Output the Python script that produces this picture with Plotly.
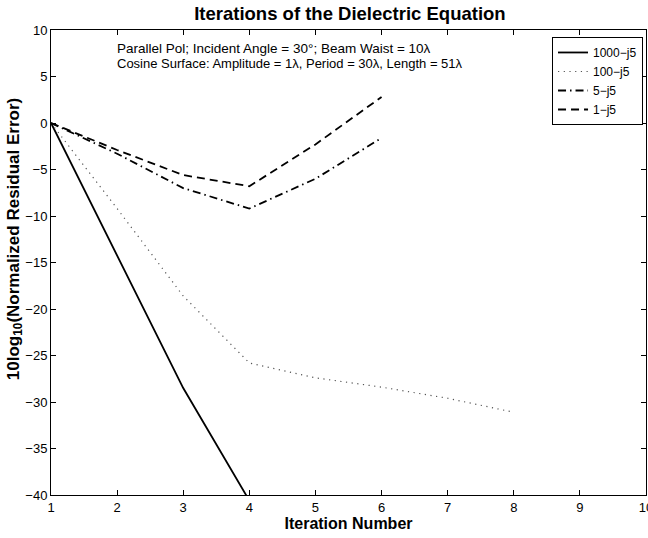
import plotly.graph_objects as go

iterations_a = [1, 2, 3, 4]
err_1000 = [0, -14.3, -28.5, -40.6]
iterations_b = [1, 2, 3, 4, 5, 6, 7, 8]
err_100 = [0, -9.2, -18.6, -25.8, -27.4, -28.4, -29.6, -31.1]
iterations_c = [1, 2, 3, 4, 5, 6]
err_5 = [0, -3.3, -7.0, -9.2, -6.0, -1.6]
err_1 = [0, -2.9, -5.6, -6.8, -2.3, 2.8]

series_names = ["1000\u2212j5", "100\u2212j5", "5\u2212j5", "1\u2212j5"]

FONT = "Liberation Sans, Arial, Helvetica, sans-serif"

fig = go.Figure()
fig.add_trace(go.Scatter(x=iterations_a, y=err_1000, mode="lines", name=series_names[0],
                         line=dict(color="black", width=1.8)))
fig.add_trace(go.Scatter(x=iterations_b, y=err_100, mode="lines", name=series_names[1],
                         line=dict(color="#555555", width=1.2, dash="1.2px,4.5px")))
fig.add_trace(go.Scatter(x=iterations_c, y=err_5, mode="lines", name=series_names[2],
                         line=dict(color="black", width=1.8, dash="8px,4px,1.5px,4px")))
fig.add_trace(go.Scatter(x=iterations_c, y=err_1, mode="lines", name=series_names[3],
                         line=dict(color="black", width=1.8, dash="8px,5px")))

axis_common = dict(showgrid=False, zeroline=False, showline=True, linecolor="black", linewidth=1,
                   mirror="ticks", ticks="inside", ticklen=5, tickcolor="black", tickwidth=1,
                   automargin=False, ticklabeloverflow="allow",
                   tickfont=dict(family=FONT, size=13, color="black"))

fig.update_layout(
    width=648, height=538,
    margin=dict(l=51, r=2, t=30, b=43),
    paper_bgcolor="white", plot_bgcolor="white",
    title=dict(text="<b>Iterations of the Dielectric Equation</b>", x=0.54, xanchor="center",
               y=0.975, yanchor="middle", font=dict(family=FONT, size=18.5, color="black")),
    xaxis=dict(range=[1, 10], dtick=1, tick0=1,
               title=dict(text="<b>Iteration Number</b>", font=dict(family=FONT, size=16, color="black"), standoff=1),
               **axis_common),
    yaxis=dict(range=[-40, 10], dtick=5, **axis_common),
    legend=dict(x=0.995, y=0.985, xanchor="right", yanchor="top", bgcolor="white",
                bordercolor="black", borderwidth=1, font=dict(family=FONT, size=12, color="black"),
                tracegroupgap=0),
    showlegend=True,
)

# y-axis label (placed as rotated text to match the reference's position)
fig.add_annotation(text="<b>10log<sub>10</sub>(Normalized Residual Error)</b>",
                   xref="paper", yref="paper", x=-0.0605, y=0.55, xanchor="center", yanchor="middle",
                   textangle=-90, showarrow=False, font=dict(family=FONT, size=17, color="black"))

fig.add_annotation(text="Parallel Pol; Incident Angle = 30\u00b0; Beam Waist = 10\u03bb",
                   xref="paper", yref="paper", x=0.1076, y=0.960, xanchor="left", yanchor="middle",
                   showarrow=False, font=dict(family=FONT, size=13.5, color="black"))
fig.add_annotation(text="Cosine Surface: Amplitude = 1\u03bb, Period = 30\u03bb, Length = 51\u03bb",
                   xref="paper", yref="paper", x=0.1076, y=0.927, xanchor="left", yanchor="middle",
                   showarrow=False, font=dict(family=FONT, size=13, color="black"))

fig.write_html("out.html", config={"displayModeBar": False},
               post_script="document.body.style.margin='0';document.documentElement.style.overflow='hidden';document.body.style.overflow='hidden';")
